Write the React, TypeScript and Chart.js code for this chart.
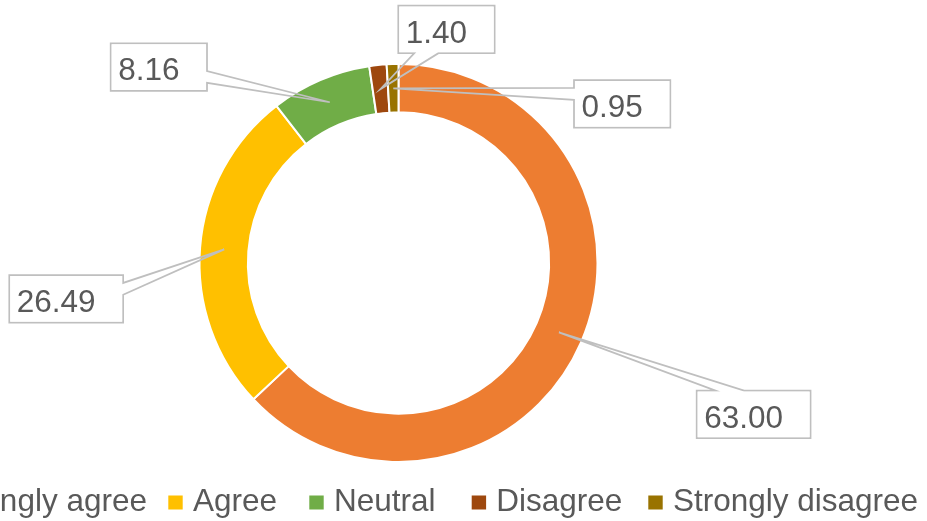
import { useEffect, useRef } from "react";
import { Chart, registerables } from "chart.js";

Chart.register(...registerables);

// ---- data ----
const categories = ["Strongly agree", "Agree", "Neutral", "Disagree", "Strongly disagree"];
const values = [63.0, 26.49, 8.16, 1.4, 0.95];
const colors = ["#ED7D31", "#FFC000", "#70AD47", "#9E480E", "#997300"];

// ---- layout (label boxes / legend positions) ----
const calloutBoxes = [
  { x: 696.7, y: 390.7, side: "top" },
  { x: 9.3, y: 275, side: "right" },
  { x: 110.7, y: 43.3, side: "right" },
  { x: 398.3, y: 5.7, side: "bottom" },
  { x: 574, y: 80, side: "left" },
];
const legendItemX = [-82.5, 168.3, 309.3, 471.7, 648.3];

const FONT = "31.5px 'Liberation Sans', Arial, sans-serif";
const TEXT_COLOR = "#595959";
const LINE_COLOR = "#BFBFBF";

const calloutPlugin = {
  id: "callouts",
  afterDatasetsDraw(chart: any) {
    const ctx = chart.ctx as CanvasRenderingContext2D;
    const meta = chart.getDatasetMeta(0);
    ctx.save();
    ctx.font = FONT;
    meta.data.forEach((arc: any, i: number) => {
      const tip = arc.tooltipPosition(false);
      const text = values[i].toFixed(2);
      const tw = ctx.measureText(text).width;
      const b = calloutBoxes[i];
      const w = tw + 35;
      const h = 47.5;
      const x1 = b.x, y1 = b.y, x2 = b.x + w, y2 = b.y + h;
      const cx = (x1 + x2) / 2, cy = (y1 + y2) / 2;
      const pts: [number, number][] = [];
      const horizF = tip.x < cx ? [2 / 12, 5 / 12] : [7 / 12, 10 / 12];
      const vertF = tip.y < cy ? [2 / 12, 5 / 12] : [7 / 12, 10 / 12];
      // top edge
      pts.push([x1, y1]);
      if (b.side === "top") {
        pts.push([x1 + horizF[0] * w, y1], [tip.x, tip.y], [x1 + horizF[1] * w, y1]);
      }
      pts.push([x2, y1]);
      if (b.side === "right") {
        pts.push([x2, y1 + vertF[0] * h], [tip.x, tip.y], [x2, y1 + vertF[1] * h]);
      }
      pts.push([x2, y2]);
      if (b.side === "bottom") {
        pts.push([x1 + horizF[1] * w, y2], [tip.x, tip.y], [x1 + horizF[0] * w, y2]);
      }
      pts.push([x1, y2]);
      if (b.side === "left") {
        pts.push([x1, y1 + vertF[1] * h], [tip.x, tip.y], [x1, y1 + vertF[0] * h]);
      }
      ctx.beginPath();
      pts.forEach(([px, py], k) => (k === 0 ? ctx.moveTo(px, py) : ctx.lineTo(px, py)));
      ctx.closePath();
      ctx.fillStyle = "rgba(255,255,255,0)";
      ctx.strokeStyle = LINE_COLOR;
      ctx.lineWidth = 1.75;
      ctx.lineJoin = "miter";
      ctx.stroke();
      // white fill of box body only
      ctx.fillStyle = "#FFFFFF";
      ctx.fillRect(x1 + 1, y1 + 1, w - 2, h - 2);
      ctx.fillStyle = TEXT_COLOR;
      ctx.textBaseline = "alphabetic";
      ctx.textAlign = "left";
      ctx.fillText(text, x1 + 7.5, y1 + 37);
    });
    ctx.restore();
  },
  afterDraw(chart: any) {
    const ctx = chart.ctx as CanvasRenderingContext2D;
    ctx.save();
    ctx.font = FONT;
    ctx.textBaseline = "alphabetic";
    ctx.textAlign = "left";
    categories.forEach((label, i) => {
      const x = legendItemX[i];
      ctx.fillStyle = colors[i];
      ctx.fillRect(x, 495.5, 14.4, 14);
      ctx.fillStyle = TEXT_COLOR;
      ctx.fillText(label, x + 24.6, 511);
    });
    ctx.restore();
  },
};

export default function App() {
  const canvasRef = useRef<HTMLCanvasElement | null>(null);

  useEffect(() => {
    if (!canvasRef.current) return;
    const chart = new Chart(canvasRef.current, {
      type: "doughnut",
      data: {
        labels: categories,
        datasets: [
          {
            data: values,
            backgroundColor: colors,
            borderColor: "#FFFFFF",
            borderWidth: 2,
            hoverOffset: 0,
          },
        ],
      },
      options: {
        animation: false,
        responsive: false,
        cutout: "75.7%",
        rotation: 0,
        layout: { padding: { left: 198.5, top: 63, right: 328.5, bottom: 58 } },
        plugins: {
          legend: { display: false },
          tooltip: { enabled: false },
        },
        events: [],
      },
      plugins: [calloutPlugin],
    });
    return () => chart.destroy();
  }, []);

  return (
    <div style={{ position: "absolute", left: 0, top: 0, width: 927, height: 521, background: "#FFFFFF" }}>
      <canvas ref={canvasRef} width={927} height={521} style={{ display: "block" }} />
    </div>
  );
}
